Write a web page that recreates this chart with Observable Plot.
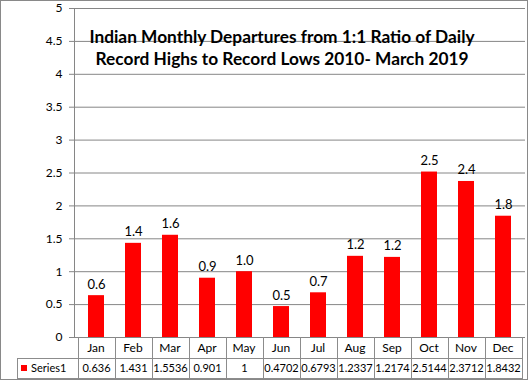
<!DOCTYPE html>
<html><head><meta charset="utf-8">
<script src="https://cdn.jsdelivr.net/npm/d3@7"></script>
<script src="https://cdn.jsdelivr.net/npm/@observablehq/plot@0.6"></script>
<style>
body{margin:0;background:#fff;}
#wrap{position:relative;width:528px;height:380px;overflow:hidden;font-family:Lato,"Open Sans",sans-serif;background:#fff;}
#wrap svg{position:absolute;left:0;top:0;}
.frame{position:absolute;left:0;top:0;width:528px;height:380px;box-sizing:border-box;border:1px solid #898989;pointer-events:none;}
.ln{position:absolute;background:#8c8c8c;}
.cell{position:absolute;box-sizing:border-box;text-align:center;font-size:11px;color:#000;white-space:nowrap;font-family:Lato,sans-serif;}
.hdr{font-size:12px;}
</style></head><body><div id="wrap"></div>
<script>
const months = ["Jan","Feb","Mar","Apr","May","Jun","Jul","Aug","Sep","Oct","Nov","Dec"];
const values = [0.636,1.431,1.5536,0.901,1,0.4702,0.6793,1.2337,1.2174,2.5144,2.3712,1.8432];
const tableLabels = ["0.636","1.431","1.5536","0.901","1","0.4702","0.6793","1.2337","1.2174","2.5144","2.3712","1.8432"];
const yTicks = [0,0.5,1,1.5,2,2.5,3,3.5,4,4.5,5];
const seriesName = "Series1";
const titleLines = ["Indian Monthly Departures from 1:1 Ratio of Daily","Record Highs to Record Lows 2010- March 2019"];

const data = months.map((m,i)=>({month:m,value:values[i]}));
const grid = "#868686";

const plot = Plot.plot({
  width:528, height:338,
  marginLeft:74, marginRight:3, marginTop:8, marginBottom:1,
  style:{fontFamily:"Lato, sans-serif", fontSize:"12px", color:"#000", background:"transparent", overflow:"visible"},
  x:{domain:months, paddingInner:0.575, paddingOuter:0.2875, axis:null},
  y:{domain:[0,5]},
  marks:[
    Plot.gridY(yTicks,{stroke:grid, strokeOpacity:1}),
    Plot.axisY(yTicks,{tickSize:5, tickPadding:7, stroke:grid, strokeOpacity:1, tickFormat:d=>String(d), fontSize:12, label:null}),
    Plot.frame({anchor:"left", stroke:grid}),
    Plot.barY(data,{x:"month", y:"value", fill:"#ff0000"}),
    Plot.text(data,{x:"month", y:"value", text:d=>d.value.toFixed(1), lineAnchor:"bottom", dy:-7, fontSize:13, fill:"#000"}),
    Plot.text([titleLines.join("\n")],{frameAnchor:"top", dx:-18, dy:19, lineAnchor:"top", text:d=>d, fontWeight:"bold", fontSize:17.3, lineHeight:1.27, fill:"#000"})
  ]
});
const wrap = document.getElementById("wrap");
wrap.appendChild(plot);

// data table beneath the plot, aligned with the x scale
const sx = plot.scale("x");
const step = sx.step, bw = sx.bandwidth;
const top0 = 337, top1 = 358, top2 = 378;
function line(x,y,w,h){const d=document.createElement("div");d.className="ln";Object.assign(d.style,{left:x+"px",top:y+"px",width:w+"px",height:h+"px"});wrap.appendChild(d);}
function cell(txt,x,y,w,h,cls){const d=document.createElement("div");d.className="cell"+(cls?" "+cls:"");d.textContent=txt;Object.assign(d.style,{left:x+"px",top:y+"px",width:w+"px",height:h+"px",lineHeight:h+"px"});wrap.appendChild(d);return d;}
const lefts = months.map(m=>sx.apply(m) - (step-bw)/2);
const rightEdge = lefts[lefts.length-1] + step;
lefts.forEach(x=>line(Math.round(x),top0,1,top2-top0+1));
line(Math.round(rightEdge),top0,1,top2-top0+1);
const keyLeft = 17;
line(keyLeft,top1,1,top2-top1+1);
line(keyLeft,top1,Math.round(rightEdge)-keyLeft,1);
line(keyLeft,top2,Math.round(rightEdge)-keyLeft+1,1);
months.forEach((m,i)=>{
  cell(m,lefts[i],top0,step,top1-top0,"hdr");
  cell(tableLabels[i],lefts[i]+0.5,top1,step,top2-top1);
});
const sw=document.createElement("div");
Object.assign(sw.style,{position:"absolute",left:"21px",top:"365px",width:"6px",height:"6px",background:"#ff0000"});
wrap.appendChild(sw);
const sc = cell(seriesName,31,top1,43,top2-top1); sc.style.textAlign="left";

const fr=document.createElement("div");fr.className="frame";wrap.appendChild(fr);
</script>
</body></html>
